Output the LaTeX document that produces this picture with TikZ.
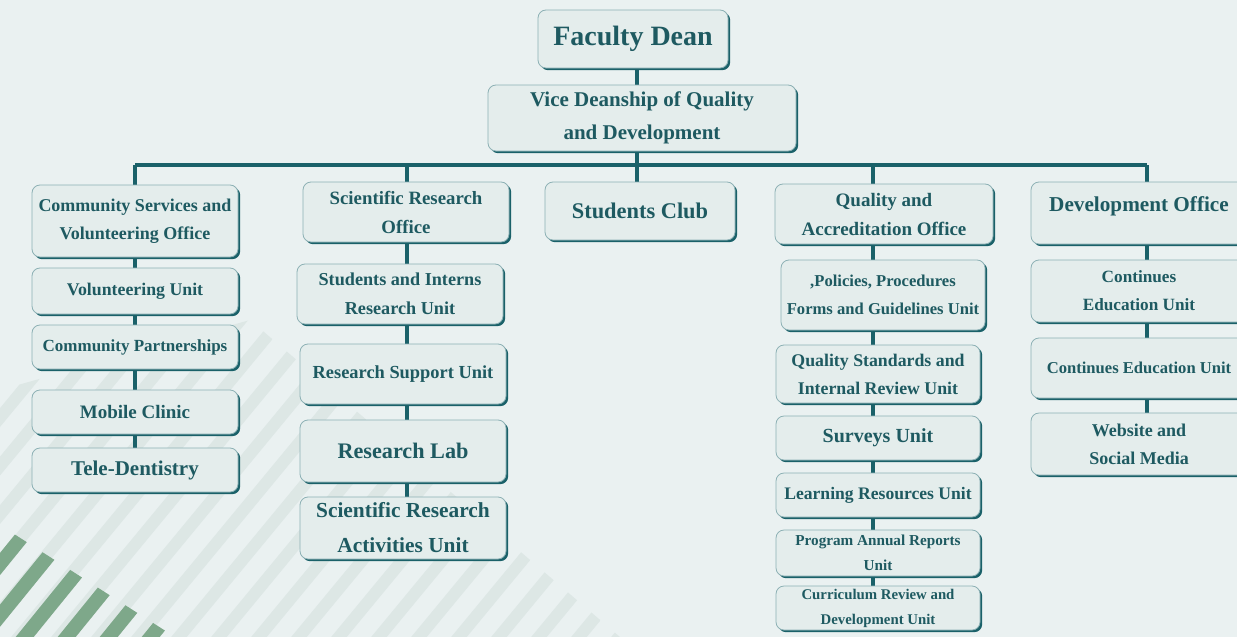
\documentclass[tikz,border=0pt]{standalone}
\usepackage{fontspec}
\setmainfont{Liberation Serif}
\usetikzlibrary{shadows,backgrounds}
\definecolor{ink}{HTML}{1E5A61}
\definecolor{wire}{HTML}{1A6169}
\definecolor{boxfill}{HTML}{E4EDEC}
\definecolor{pagebg}{HTML}{EAF1F1}
\definecolor{stripe}{HTML}{DDE7E5}
\definecolor{leaf}{HTML}{7EA88A}
\newcommand{\boxfont}[2]{\bfseries\fontsize{#1}{#2}\selectfont}
\begin{document}
\begin{tikzpicture}
[x=0.5pt,y=-0.5pt,%
  unitBox/.style={draw=wire!50,fill=boxfill,rounded corners=4pt,text=ink,align=center,
    inner sep=1pt,minimum width=103pt,font=\boxfont{9}{14},
    drop shadow={shadow xshift=1.1pt,shadow yshift=-1.1pt,fill=wire,opacity=1}},%
  wireLine/.style={draw=wire,line width=1.7pt},%
  busLine/.style={draw=wire,line width=2pt}]
\useasboundingbox (0,0) rectangle (1237,637);
%% top of the chart
\node (dean) at (633,39) [unitBox,minimum width=95pt,minimum height=29pt,
  font=\boxfont{14}{16}] {Faculty Dean};
\node (vice) at (642,118) [unitBox,minimum width=154pt,minimum height=33pt,
  font=\boxfont{10.5}{16.5}] {Vice Deanship of Quality\\and Development};
%% points on the bus line
\coordinate (busL) at (135,165);
\coordinate (busS) at (407,165);
\coordinate (busM) at (637,165);
\coordinate (busQ) at (873,165);
\coordinate (busR) at (1147,165);
%% community services column
\node (cso) at (135,221) [unitBox,minimum height=36pt] {Community Services and\\Volunteering Office};
\node (volu) at (135,291) [unitBox,minimum height=23pt,font=\boxfont{8.9}{14}] {Volunteering Unit};
\node (cpart) at (135,347) [unitBox,minimum height=22pt,font=\boxfont{8.5}{14}] {Community Partnerships};
\node (mobile) at (135,412) [unitBox,minimum height=22pt,font=\boxfont{9.5}{14}] {Mobile Clinic};
\node (tele) at (135,470) [unitBox,minimum height=22pt,font=\boxfont{10.5}{14}] {Tele-Dentistry};
%% scientific research column
\node (sro) at (406,212) [unitBox,minimum height=30pt,font=\boxfont{9.4}{14.5}] {Scientific Research\\Office};
\node (sir) at (400,294) [unitBox,minimum height=30pt,font=\boxfont{9.1}{14.5}] {Students and Interns\\Research Unit};
\node (rsu) at (403,374) [unitBox,minimum height=30pt,font=\boxfont{9.2}{14}] {Research Support Unit};
\node (rlab) at (403,451) [unitBox,minimum height=31pt,font=\boxfont{11.1}{14}] {Research Lab};
\node (sra) at (403,528) [unitBox,minimum height=31pt,font=\boxfont{10.7}{17.5}] {Scientific Research\\Activities Unit};
%% students club
\node (club) at (640,211) [unitBox,minimum width=95pt,minimum height=29pt,
  font=\boxfont{11.2}{14}] {Students Club};
%% quality column
\node (qao) at (884,214) [unitBox,minimum width=109pt,minimum height=30pt,
  font=\boxfont{9.5}{14.5}] {Quality and\\Accreditation Office};
\node (pol) at (883,295) [unitBox,minimum width=102pt,minimum height=35pt,
  font=\boxfont{8.3}{14}] {,Policies, Procedures\\Forms and Guidelines Unit};
\node (qsr) at (878,374) [unitBox,minimum width=102pt,minimum height=29pt,font=\boxfont{8.9}{14}] {Quality Standards and\\Internal Review Unit};
\node (surv) at (878,438) [unitBox,minimum width=102pt,minimum height=22pt,font=\boxfont{10}{14}] {Surveys Unit};
\node (lru) at (878,495) [unitBox,minimum width=102pt,minimum height=22pt,font=\boxfont{8.8}{14}] {Learning Resources Unit};
\node (par) at (878,553) [unitBox,minimum width=102pt,minimum height=23pt,
  font=\boxfont{7.6}{12.5}] {Program Annual Reports\\Unit};
\node (cur) at (878,608) [unitBox,minimum width=102pt,minimum height=22pt,
  font=\boxfont{7.4}{12.5}] {Curriculum Review and\\Development Unit};
%% development column
\node (dev) at (1139,213) [unitBox,minimum width=108pt,minimum height=31pt,
  font=\boxfont{10.6}{9}] {Development Office\\\mbox{}};
\node (ceua) at (1139,291) [unitBox,minimum width=108pt,minimum height=31pt,font=\boxfont{8.6}{14}] {Continues\\Education Unit};
\node (ceub) at (1139,368) [unitBox,minimum width=108pt,minimum height=30pt,font=\boxfont{8.3}{14}] {Continues Education Unit};
\node (web) at (1139,444) [unitBox,minimum width=108pt,minimum height=31pt] {Website and\\Social Media};
%% page, stripes and connectors behind the boxes
\begin{scope}[on background layer]
\fill[pagebg] (0,0) rectangle (1237,637);
\begin{scope}
\clip (0,390) -- (250,320) -- (620,637) -- (0,637) -- cycle;
\foreach \s in {-400,-360,...,700}
  \draw[stripe,line width=6pt] (\s,660) -- ++(330,-400);
\end{scope}
\begin{scope}
\clip (0,525) -- (175,637) -- (0,637) -- cycle;
\foreach \s in {-120,-78,...,220}
  \draw[leaf,line width=7pt] (\s,660) -- ++(130,-160);
\end{scope}
\draw[busLine] (busL) -- (busR);
\draw[wireLine] (dean.south -| busM) -- (vice.north -| busM);
\draw[wireLine] (vice.south -| busM) -- (busM);
\draw[wireLine] (busM) -- (club.north -| busM);
\draw[wireLine] (busL) -- (cso);
\draw[wireLine] (busS) -- (sro.north -| busS);
\draw[wireLine] (busQ) -- (qao.north -| busQ);
\draw[wireLine] (busR) -- (dev.north -| busR);
\foreach \a/\b in {cso/volu,volu/cpart,cpart/mobile,mobile/tele}
  \draw[wireLine] (\a) -- (\b);
\foreach \a/\b in {sro/sir,sir/rsu,rsu/rlab,rlab/sra}
  \draw[wireLine] (\a.south -| busS) -- (\b.north -| busS);
\foreach \a/\b in {qao/pol,pol/qsr,qsr/surv,surv/lru,lru/par,par/cur}
  \draw[wireLine] (\a.south -| busQ) -- (\b.north -| busQ);
\foreach \a/\b in {dev/ceua,ceua/ceub,ceub/web}
  \draw[wireLine] (\a.south -| busR) -- (\b.north -| busR);
\end{scope}
\end{tikzpicture}
\end{document}
